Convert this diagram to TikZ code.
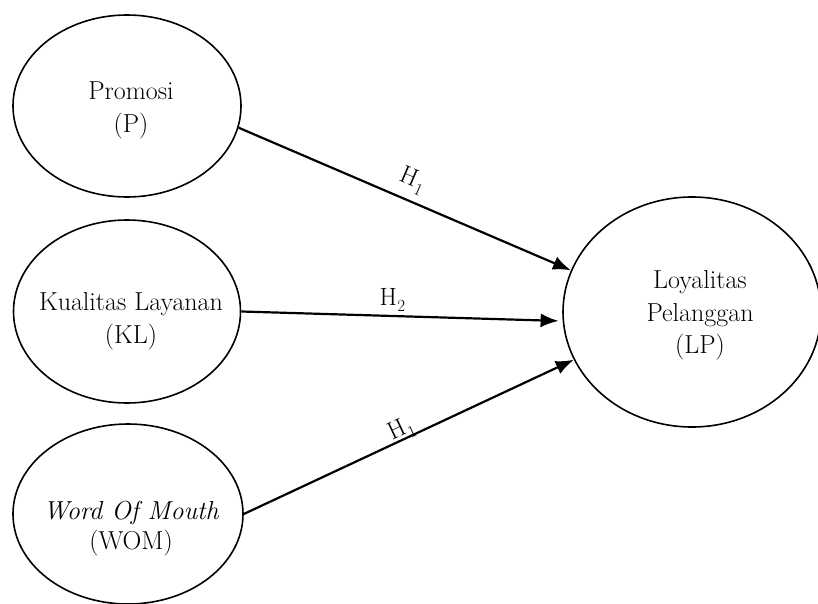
\documentclass[tikz,border=0pt]{standalone}
\usepackage{fontspec}
\usetikzlibrary{shapes.geometric,arrows.meta}
\newcommand{\hsub}[1]{H\kern0.5pt\raisebox{-6pt}{\fontsize{17}{17}\selectfont #1}}
\begin{document}
\begin{tikzpicture}[x=1pt,y=-1pt,
  oval/.style={ellipse, draw=black, line width=1.6pt, inner sep=0pt},
  txt/.style={anchor=base, inner sep=0pt, font=\fontsize{26}{33}\selectfont},
  conn/.style={line width=2.2pt, -{Latex[length=18pt,width=14pt]}},
  hyp/.style={font=\fontsize{25}{28}\selectfont, inner sep=1pt}]
\useasboundingbox[fill=white] (0,0) rectangle (818,604);
\begin{scope}
\clip (0,0) rectangle (818,604);
\node[oval, minimum width=228pt, minimum height=182pt] (P) at (127,106) {};
\node[oval, minimum width=227pt, minimum height=183pt] (KL) at (127,311.5) {};
\node[oval, minimum width=230pt, minimum height=180pt] (WOM) at (128,514) {};
\node[oval, minimum width=258pt, minimum height=230pt] (LP) at (692,312) {};
\end{scope}

\node[txt] (p1) at (131,100) {Promosi};
\node[txt] (p2) at (131,133) {(P)};
\node[txt] (kl1) at (131,310) {Kualitas Layanan};
\node[txt] (kl2) at (131,343) {(KL)};
\node[txt] (w1) at (131,519) {\itshape Word Of Mouth};
\node[txt] (w2) at (131,549) {(WOM)};
\node[txt] (lp1) at (700,288) {Loyalitas};
\node[txt] (lp2) at (700,321) {Pelanggan};
\node[txt] (lp3) at (700,353) {(LP)};

\draw[conn] (P.-11) -- (LP.161.5)
  node[hyp, sloped, above=6pt, pos=0.5] (h1a) {\hsub{1}};
\draw[conn, shorten >=4pt] (KL.0) -- (LP.184)
  node[hyp, above=2pt, pos=0.47] (h2) {\hsub{2}};
\draw[conn] (WOM.0) -- (LP.202.5)
  node[hyp, sloped, above=-4pt, pos=0.49] (h1b) {\hsub{1}};
\end{tikzpicture}
\end{document}
